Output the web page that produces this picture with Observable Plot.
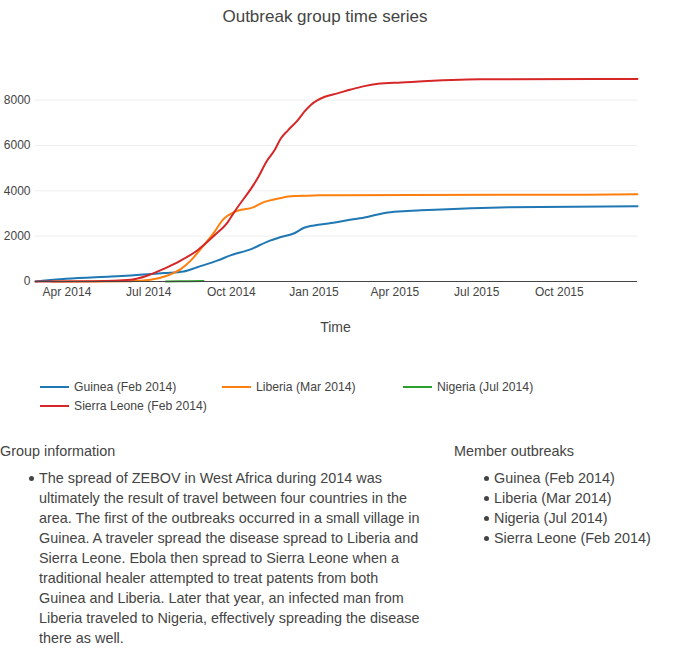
<!DOCTYPE html>
<html><head><meta charset="utf-8">
<script src="https://cdn.jsdelivr.net/npm/d3@7"></script>
<script src="https://cdn.jsdelivr.net/npm/@observablehq/plot@0.6"></script>
<style>
body{margin:0;background:#fff;font-family:"Liberation Sans",Arial,sans-serif;color:#444}
#wrap{position:relative;width:673px;height:652px;overflow:hidden;background:#fff}
.abs{position:absolute;white-space:nowrap}
#title{left:0;width:650px;text-align:center;top:7px;font-size:17px;line-height:20px}
#xlabel{left:0;width:671px;text-align:center;top:317px;font-size:14px;line-height:20px}
.leg{position:absolute;font-size:12.2px;line-height:14px;white-space:nowrap}
.sw{position:absolute;width:29px;height:2px}
.txt{font-size:14.4px;line-height:20px}
.item{position:absolute;white-space:nowrap}
.dot{position:absolute;width:5px;height:5px;border-radius:50%;background:#444}
</style></head><body>
<div id="wrap">
<div id="chart" style="position:absolute;left:0;top:0"></div>
<div class="abs" id="title">Outbreak group time series</div>
<div class="abs" id="xlabel">Time</div>
<div id="legend"></div>
<div id="info"></div>
</div>
<script>
// ---- data ----
const seriesNames = ["Guinea (Feb 2014)", "Liberia (Mar 2014)", "Nigeria (Jul 2014)", "Sierra Leone (Feb 2014)"];
const seriesColors = ["#1f77b4", "#ff7f0e", "#2ca02c", "#d62728"];

const guineaDates = ["2014-02-25","2014-03-31","2014-05-20","2014-06-11","2014-07-18","2014-08-09","2014-08-24","2014-09-16","2014-09-30","2014-10-23","2014-11-09","2014-11-25","2014-12-10","2014-12-21","2015-01-01","2015-01-20","2015-02-07","2015-02-26","2015-03-13","2015-03-24","2015-04-15","2015-04-30","2015-08-05","2015-12-27"];
const guineaValues = [0,120,220,265,370,440,630,930,1150,1430,1740,1960,2130,2370,2475,2580,2700,2820,2960,3040,3110,3140,3280,3320];

const liberiaDates = ["2014-03-15","2014-06-11","2014-07-03","2014-07-22","2014-08-06","2014-08-17","2014-08-28","2014-09-12","2014-09-21","2014-10-04","2014-10-26","2014-11-06","2014-11-21","2014-12-06","2015-01-05","2015-01-30","2015-11-01","2015-12-27"];
const liberiaValues = [0,10,75,265,560,930,1445,2180,2700,3060,3280,3500,3650,3760,3800,3810,3830,3850];

const nigeriaDates = ["2014-07-20","2014-08-05","2014-08-15","2014-08-31"];
const nigeriaValues = [1,9,13,19];

const sierraDates = ["2014-02-25","2014-05-01","2014-06-11","2014-06-30","2014-07-18","2014-08-06","2014-08-24","2014-09-12","2014-09-27","2014-10-04","2014-10-30","2014-11-10","2014-11-18","2014-11-25","2014-12-03","2014-12-14","2014-12-21","2014-12-29","2015-01-05","2015-01-13","2015-01-27","2015-02-11","2015-02-26","2015-03-13","2015-04-08","2015-07-05","2015-12-27"];
const sierraValues = [0,15,75,265,560,930,1370,2030,2620,3050,4540,5350,5790,6310,6670,7120,7480,7810,8000,8150,8300,8470,8620,8720,8780,8920,8930];

const xTickDates = ["2014-04-01","2014-07-01","2014-10-01","2015-01-01","2015-04-01","2015-07-01","2015-10-01"];
const yTicks = [0,2000,4000,6000,8000];

const groupInfoLines = [
 "The spread of ZEBOV in West Africa during 2014 was",
 "ultimately the result of travel between four countries in the",
 "area. The first of the outbreaks occurred in a small village in",
 "Guinea. A traveler spread the disease spread to Liberia and",
 "Sierra Leone. Ebola then spread to Sierra Leone when a",
 "traditional healer attempted to treat patents from both",
 "Guinea and Liberia. Later that year, an infected man from",
 "Liberia traveled to Nigeria, effectively spreading the disease",
 "there as well."
];

// ---- build table ----
const parse = d3.utcParse("%Y-%m-%d");
const allDates = [guineaDates, liberiaDates, nigeriaDates, sierraDates];
const allValues = [guineaValues, liberiaValues, nigeriaValues, sierraValues];
const rows = [];
allDates.forEach((ds, i) => ds.forEach((d, j) => rows.push({series: seriesNames[i], date: parse(d), value: allValues[i][j]})));

const chart = Plot.plot({
  width: 673, height: 345,
  marginLeft: 35, marginRight: 36, marginTop: 77, marginBottom: 64,
  style: {fontFamily: '"Liberation Sans", Arial, sans-serif', fontSize: "12px", color: "#444", background: "transparent", overflow: "visible"},
  x: {type: "utc", domain: [parse("2014-02-25"), parse("2015-12-27")], ticks: xTickDates.map(parse), tickFormat: d3.utcFormat("%b %Y"), tickSize: 0, tickPadding: 6, label: null},
  y: {domain: [0, 9000], ticks: yTicks, tickSize: 0, tickPadding: 5, tickFormat: d3.format("d"), label: null},
  color: {domain: seriesNames, range: seriesColors},
  marks: [
    Plot.ruleY(yTicks.filter(d => d > 0), {stroke: "#eee", strokeWidth: 1}),
    Plot.line(rows, {x: "date", y: "value", z: "series", stroke: "series", strokeWidth: 2, curve: "monotone-x"}),
    Plot.ruleY([0], {stroke: "#444", strokeWidth: 1})
  ]
});
document.getElementById("chart").appendChild(chart);

// ---- legend ----
const legendPos = [[40, 387], [222, 387], [403, 387], [40, 406]];
const legend = document.getElementById("legend");
seriesNames.forEach((name, i) => {
  const [x, y] = legendPos[i];
  const sw = document.createElement("div");
  sw.className = "sw";
  sw.style.left = x + "px"; sw.style.top = (y - 1) + "px"; sw.style.background = seriesColors[i];
  legend.appendChild(sw);
  const t = document.createElement("div");
  t.className = "leg";
  t.style.left = (x + 34) + "px"; t.style.top = (y - 7) + "px";
  t.textContent = name;
  legend.appendChild(t);
});

// ---- info text ----
const info = document.getElementById("info");
function addText(text, x, yc) {
  const d = document.createElement("div");
  d.className = "item txt";
  d.style.left = x + "px"; d.style.top = (yc - 10) + "px";
  d.textContent = text;
  info.appendChild(d);
}
function addDot(x, yc) {
  const d = document.createElement("div");
  d.className = "dot";
  d.style.left = (x - 2.5) + "px"; d.style.top = (yc - 2) + "px";
  info.appendChild(d);
}
addText("Group information", 0, 451);
addDot(31.5, 478);
groupInfoLines.forEach((l, i) => addText(l, 39, 478 + 20 * i));
addText("Member outbreaks", 454, 451);
seriesNames.forEach((n, i) => { addDot(486.5, 478 + 20 * i); addText(n, 494, 478 + 20 * i); });
</script>
</body></html>
